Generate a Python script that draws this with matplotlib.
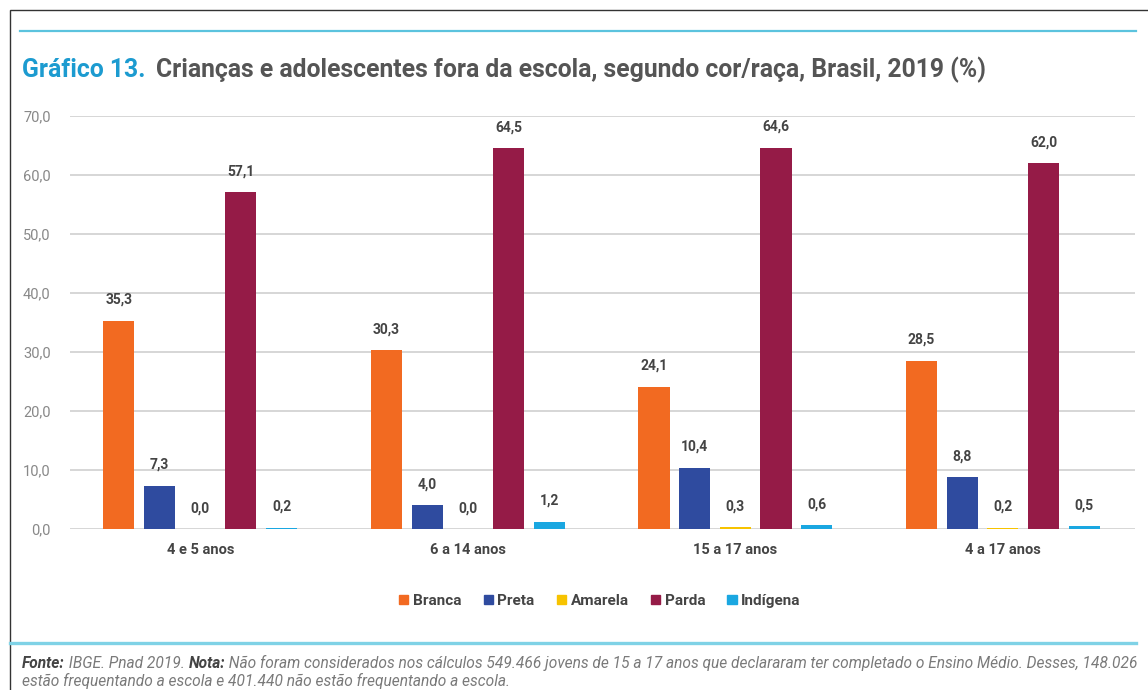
import numpy as np
import matplotlib
matplotlib.use('Agg')
import matplotlib.pyplot as plt
from matplotlib.patches import Patch, Rectangle
from matplotlib.lines import Line2D

plt.rcParams['font.family'] = ['Roboto', 'DejaVu Sans']

# data
grupos = ['4 e 5 anos', '6 a 14 anos', '15 a 17 anos', '4 a 17 anos']
racas = ['Branca', 'Preta', 'Amarela', 'Parda', 'Indígena']
branca = [35.3, 30.3, 24.1, 28.5]
preta = [7.3, 4.0, 10.4, 8.8]
amarela = [0.0, 0.0, 0.3, 0.2]
parda = [57.1, 64.5, 64.6, 62.0]
indigena = [0.2, 1.2, 0.6, 0.5]
series = [branca, preta, amarela, parda, indigena]
cores = ['#F26A21', '#2F4B9F', '#F7C300', '#951B47', '#1AA7E1']
yticks = [0, 10, 20, 30, 40, 50, 60, 70]

W, H = 1148, 690
fig = plt.figure(figsize=(W/100, H/100), dpi=100)

def px(x, y):
    return x/W, 1 - y/H

# frame and cyan rules
fig.add_artist(Rectangle(px(10, 700), 1200/W, 690/H, transform=fig.transFigure,
                         fill=False, edgecolor='#333333', lw=1.0))
fig.add_artist(Line2D([20/W, 1136/W], [1-31/H, 1-31/H], transform=fig.transFigure,
                      color='#5BC3DE', lw=1.6))
fig.add_artist(Line2D([10/W, 1136/W], [1-643/H, 1-643/H], transform=fig.transFigure,
                      color='#7FD2E6', lw=2.4))

# title
x0, y0 = px(22, 77)
t1 = fig.text(x0, y0, 'Gráfico 13.', color='#1C9BD0', fontsize=17.8, fontweight='bold', va='baseline')
fig.canvas.draw()
r = fig.canvas.get_renderer()
bb = t1.get_window_extent(r)
fig.text((bb.x1 + 10)/W, y0, 'Crianças e adolescentes fora da escola, segundo cor/raça, Brasil, 2019 (%)',
         color='#555555', fontsize=17.8, fontweight='bold', va='baseline')

ax = fig.add_axes([70/W, 1 - 529/H, 1065/W, 413/H])
x = np.arange(len(grupos))
passo = 0.152
larg = 0.116
for i, (vals, cor) in enumerate(zip(series, cores)):
    pos = x + (i - 2)*passo
    ax.bar(pos, vals, width=larg, color=cor, zorder=3)
    for p, v in zip(pos, vals):
        ax.annotate(f'{v:.1f}'.replace('.', ','), (p, v), xytext=(0, 10), textcoords='offset points',
                    ha='center', va='bottom', fontsize=10, fontweight='bold', color='#444444')

ax.set_xlim(-0.487, 3.494)
ax.set_ylim(0, 70)
ax.set_yticks(yticks)
ax.set_yticklabels([f'{v:.1f}'.replace('.', ',') for v in yticks], color='#888888', fontsize=10.5)
ax.set_xticks(x)
ax.set_xticklabels(grupos, fontsize=10.5, fontweight='bold', color='#444444')
ax.tick_params(axis='both', length=0)
ax.tick_params(axis='y', pad=14)
ax.tick_params(axis='x', pad=10)
ax.grid(axis='y', color='#CFCFCF', lw=1.2, zorder=0)
for s in ax.spines.values():
    s.set_visible(False)

handles = [Patch(color=c, label=l) for c, l in zip(cores, racas)]
fig.legend(handles=handles, loc='center', bbox_to_anchor=(600/W, 1 - 601/H), ncol=5, frameon=False,
           handlelength=0.6, handleheight=0.6, handletextpad=0.3, columnspacing=1.45,
           prop={'weight': 'bold', 'size': 11}, labelcolor='#444444')

# footnote with mixed bold/italic pieces
def linha(pecas, xpx, ypx, tam=11.2):
    xx = xpx
    for txt, peso in pecas:
        t = fig.text(xx/W, 1 - ypx/H, txt, fontsize=tam, style='italic', fontweight=peso,
                     color='#7A7A7A' if peso == 'normal' else '#444444', va='center')
        fig.canvas.draw()
        b = t.get_window_extent(fig.canvas.get_renderer())
        xx = b.x1

linha([('Fonte:', 'bold'), (' IBGE. Pnad 2019. ', 'normal'), ('Nota:', 'bold'),
       (' Não foram considerados nos cálculos 549.466 jovens de 15 a 17 anos que declararam ter completado o Ensino Médio. Desses, 148.026', 'normal')],
      22, 663)
linha([('estão frequentando a escola e 401.440 não estão frequentando a escola.', 'normal')], 22, 681)

fig.savefig('out.png', dpi=100)
